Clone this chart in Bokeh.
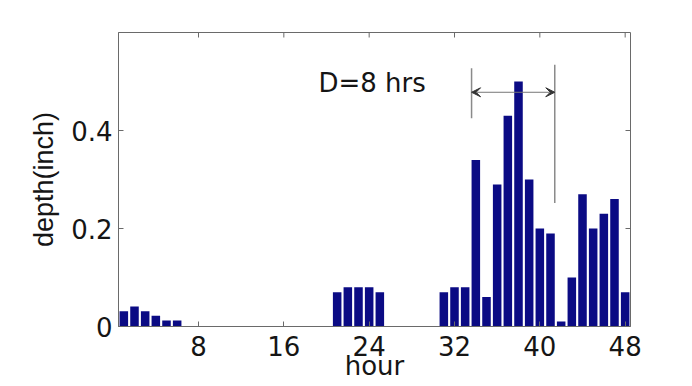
from bokeh.plotting import figure
from bokeh.models import (ColumnDataSource, FixedTicker, Range1d,
                          Arrow, VeeHead, Label)
from bokeh.embed import file_html
from bokeh.resources import INLINE

# ---- data ----
hours = list(range(1, 49))
depth = [0.031, 0.041, 0.031, 0.022, 0.012, 0.012,
         0, 0, 0, 0, 0, 0, 0, 0, 0, 0, 0, 0, 0, 0,
         0.07, 0.08, 0.08, 0.08, 0.07,
         0, 0, 0, 0, 0,
         0.07, 0.08, 0.08, 0.34, 0.06, 0.29, 0.43, 0.50, 0.30, 0.20, 0.19,
         0.01, 0.10, 0.27, 0.20, 0.23, 0.26, 0.07]
x_ticks = [8, 16, 24, 32, 40, 48]
y_ticks = [0, 0.2, 0.4]
y_tick_labels = {0: "0", 0.2: "0.2", 0.4: "0.4"}
x_title = "hour"
y_title = "depth(inch)"
mark_x = [33.6, 41.4]
mark_y0 = [0.425, 0.252]
mark_y1 = [0.527, 0.534]
arrow_y = 0.478
note_text = "D=8 hrs"
note_x, note_y = 19.25, 0.497

X0, X1 = 0.5, 48.5
Y0, Y1 = 0.0, 0.6

FONT = "DejaVu Sans"
FONT_Y = "Liberation Sans"
FS = "26px"
AX = "#6a6a6a"
TXT = "#151515"

p = figure(width=692, height=386, output_backend="svg", toolbar_location=None,
           x_range=Range1d(X0, X1), y_range=Range1d(Y0, Y1),
           min_border_left=118, min_border_right=62,
           min_border_top=32, min_border_bottom=60)
p.background_fill_color = "white"
p.border_fill_color = "white"
p.outline_line_color = AX
p.outline_line_width = 1
p.grid.visible = False

src = ColumnDataSource(dict(x=hours, top=depth))
p.vbar(x="x", top="top", width=0.8, bottom=0, source=src,
       fill_color="#0b0b84", line_color=None)

# bottom / left axes
xa = p.xaxis[0]
xa.ticker = FixedTicker(ticks=x_ticks)
xa.axis_label = x_title
ya = p.yaxis[0]
ya.ticker = FixedTicker(ticks=y_ticks)
ya.major_label_overrides = y_tick_labels
ya.axis_label = y_title
for ax in (xa, ya):
    ax.major_label_text_font = FONT
    ax.major_label_text_font_size = FS
    ax.major_label_text_color = TXT
    ax.axis_label_text_font_size = FS
    ax.axis_label_text_font_style = "normal"
    ax.axis_label_text_color = TXT
    ax.major_tick_in = 5
    ax.major_tick_out = 0
    ax.minor_tick_in = 0
    ax.minor_tick_out = 0
    ax.axis_line_color = AX
    ax.major_tick_line_color = AX
xa.axis_label_text_font = FONT
ya.axis_label_text_font = FONT_Y
ya.axis_label_text_font_size = "27px"
xa.major_label_standoff = 9
xa.axis_label_standoff = -8
ya.major_label_standoff = 6
ya.axis_label_standoff = 9

# inward ticks on the top and right frame edges (5 px long)
dy = (Y1 - Y0) / 294 * 5
dx = (X1 - X0) / 512 * 5
top_src = ColumnDataSource(dict(x=x_ticks, y0=[Y1] * len(x_ticks),
                                y1=[Y1 - dy] * len(x_ticks)))
p.segment(x0="x", y0="y0", x1="x", y1="y1", source=top_src, line_color=AX)
right_src = ColumnDataSource(dict(y=y_ticks, x0=[X1] * len(y_ticks),
                                  x1=[X1 - dx] * len(y_ticks)))
p.segment(x0="x0", y0="y", x1="x1", y1="y", source=right_src, line_color=AX)

# duration markers
msrc = ColumnDataSource(dict(x=mark_x, y0=mark_y0, y1=mark_y1))
p.segment(x0="x", y0="y0", x1="x", y1="y1", source=msrc,
          line_color="#8a8a8a", line_width=1.5)
p.add_layout(Arrow(x_start=mark_x[0], y_start=arrow_y, x_end=mark_x[1], y_end=arrow_y,
                   line_color="#777777", line_width=1,
                   start=VeeHead(size=9, fill_color="#333333", line_color="#333333"),
                   end=VeeHead(size=9, fill_color="#333333", line_color="#333333")))
p.add_layout(Label(x=note_x, y=note_y, text=note_text, text_font=FONT,
                   text_font_size=FS, text_color=TXT,
                   text_baseline="alphabetic", text_align="left"))

open("out.html", "w").write(file_html(p, INLINE))
